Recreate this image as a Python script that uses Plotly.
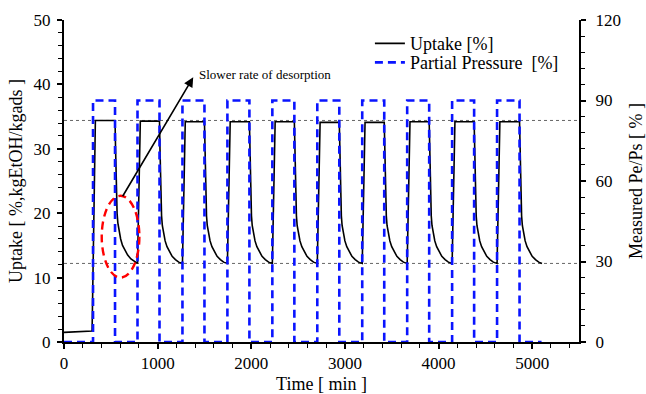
import plotly.graph_objects as go

# ---------------- data ----------------
uptake_time = [
    0, 300, 335,
    545, 550, 555, 560, 567, 575, 590, 605, 625, 650, 680, 715, 750, 785, 815,
    1020, 1025, 1030, 1035, 1042, 1050, 1065, 1080, 1100, 1125, 1155, 1190, 1225, 1265, 1295,
    1500, 1505, 1510, 1515, 1522, 1530, 1545, 1560, 1580, 1605, 1635, 1670, 1705, 1745, 1775,
    1980, 1985, 1990, 1995, 2002, 2010, 2025, 2040, 2060, 2085, 2115, 2150, 2185, 2225, 2255,
    2460, 2465, 2470, 2475, 2482, 2490, 2505, 2520, 2540, 2565, 2595, 2630, 2665, 2705, 2735,
    2940, 2945, 2950, 2955, 2962, 2970, 2985, 3000, 3020, 3045, 3075, 3110, 3145, 3185, 3215,
    3420, 3425, 3430, 3435, 3442, 3450, 3465, 3480, 3500, 3525, 3555, 3590, 3625, 3665, 3695,
    3900, 3905, 3910, 3915, 3922, 3930, 3945, 3960, 3980, 4005, 4035, 4070, 4105, 4145, 4175,
    4380, 4385, 4390, 4395, 4402, 4410, 4425, 4440, 4460, 4485, 4515, 4550, 4585, 4625, 4655,
    4865, 4870, 4875, 4880, 4887, 4895, 4910, 4925, 4945, 4970, 5000, 5035, 5070, 5105,
]
uptake_value = [
    1.5, 1.7, 34.4,
    34.4, 30.5, 26.5, 22.5, 20.0, 18.5, 17.0, 16.0, 15.0, 14.2, 13.5, 12.9, 12.5, 12.2, 34.3,
    34.3, 30.0, 26.0, 22.0, 19.6, 18.1, 16.7, 15.7, 14.8, 14.0, 13.3, 12.8, 12.4, 12.2, 34.2,
    34.2, 30.0, 26.0, 22.0, 19.6, 18.1, 16.7, 15.7, 14.8, 14.0, 13.3, 12.8, 12.4, 12.2, 34.2,
    34.2, 30.0, 26.0, 22.0, 19.6, 18.1, 16.7, 15.7, 14.8, 14.0, 13.3, 12.8, 12.4, 12.2, 34.2,
    34.2, 30.0, 26.0, 22.0, 19.6, 18.1, 16.7, 15.7, 14.8, 14.0, 13.3, 12.8, 12.4, 12.2, 34.1,
    34.1, 30.0, 26.0, 22.0, 19.6, 18.1, 16.7, 15.7, 14.8, 14.0, 13.3, 12.8, 12.4, 12.2, 34.1,
    34.1, 30.0, 26.0, 22.0, 19.6, 18.1, 16.7, 15.7, 14.8, 14.0, 13.3, 12.8, 12.4, 12.2, 34.2,
    34.2, 30.0, 26.0, 22.0, 19.6, 18.1, 16.7, 15.7, 14.8, 14.0, 13.3, 12.8, 12.4, 12.2, 34.2,
    34.2, 30.0, 26.0, 22.0, 19.6, 18.1, 16.7, 15.7, 14.8, 14.0, 13.3, 12.8, 12.4, 12.2, 34.2,
    34.2, 30.0, 26.0, 22.0, 19.6, 18.1, 16.7, 15.7, 14.8, 14.0, 13.3, 12.8, 12.4, 12.2,
]

pressure_time = [
    0, 310, 310, 545, 545, 785, 785, 1020, 1020, 1265, 1265, 1500, 1500,
    1745, 1745, 1980, 1980, 2225, 2225, 2460, 2460, 2705, 2705, 2940, 2940,
    3185, 3185, 3420, 3420, 3665, 3665, 3900, 3900, 4145, 4145, 4380, 4380,
    4625, 4625, 4865, 4865, 5100,
]
pressure_value = [
    0, 0, 90, 90, 0, 0, 90, 90, 0, 0, 90, 90, 0,
    0, 90, 90, 0, 0, 90, 90, 0, 0, 90, 90, 0,
    0, 90, 90, 0, 0, 90, 90, 0, 0, 90, 90, 0,
    0, 90, 90, 0, 0,
]

reference_levels = [34.4, 12.2]          # grey dashed guide lines (left axis)
x_ticks = [0, 1000, 2000, 3000, 4000, 5000]
y_ticks = [0, 10, 20, 30, 40, 50]
y2_ticks = [0, 30, 60, 90, 120]

FONT = "Liberation Serif, Times New Roman, serif"

fig = go.Figure()
fig.add_trace(go.Scatter(
    x=uptake_time, y=uptake_value, mode="lines", name="Uptake [%]",
    line=dict(color="black", width=1.6), cliponaxis=False, legend="legend",
))
fig.add_trace(go.Scatter(
    x=pressure_time, y=pressure_value, mode="lines", name="Partial Pressure  [%]",
    line=dict(color="#0a14ff", width=2.6, dash="8px,5px"), yaxis="y2", cliponaxis=False,
    legend="legend2",
))

for lvl in reference_levels:
    fig.add_shape(type="line", xref="paper", x0=0, x1=1, yref="y", y0=lvl, y1=lvl,
                  line=dict(color="#666666", width=1, dash="3px,3px"), layer="below")

# red dashed ellipse highlighting the first desorption
fig.add_shape(type="circle", xref="x", yref="y", x0=403, x1=805, y0=10.0, y1=22.7,
              line=dict(color="red", width=2.4, dash="8px,5px"))

# arrow and its label
fig.add_annotation(x=1380, y=41.1, ax=617, ay=22.4, xref="x", yref="y", axref="x", ayref="y",
                   text="", showarrow=True, arrowhead=2, arrowsize=1.2, arrowwidth=1.6,
                   arrowcolor="black")
fig.add_annotation(x=1415, y=41.5, xref="x", yref="y", text="Slower rate of desorption",
                   showarrow=False, xanchor="left", yanchor="middle",
                   font=dict(family=FONT, size=13, color="black"))

axis_common = dict(showgrid=False, zeroline=False, showline=True, linecolor="black",
                   linewidth=2, ticks="outside", ticklen=5, tickwidth=1.5, tickcolor="black",
                   automargin=False,
                   tickfont=dict(family=FONT, size=17, color="black"))

legend_common = dict(xanchor="left", yanchor="top", bgcolor="rgba(0,0,0,0)",
                     font=dict(family=FONT, size=18, color="black"))

fig.update_layout(
    width=646, height=394,
    margin=dict(l=64, r=67, t=20, b=52),
    plot_bgcolor="white", paper_bgcolor="white",
    font=dict(family=FONT, size=17, color="black"),
    xaxis=dict(range=[0, 5500], tickvals=x_ticks,
               minor=dict(dtick=200, ticks="outside", ticklen=4, tickcolor="black", tickwidth=1.2),
               title=dict(text="Time [ min ]", font=dict(family=FONT, size=18), standoff=6),
               **axis_common),
    yaxis=dict(range=[0, 50], tickvals=y_ticks, ticklabelstandoff=3,
               minor=dict(dtick=2, ticks="outside", ticklen=4, tickcolor="black", tickwidth=1.2),
               title=dict(text="Uptake [ %,kgEtOH/kgads ]", font=dict(family=FONT, size=18), standoff=6),
               **axis_common),
    yaxis2=dict(range=[0, 120], tickvals=y2_ticks, overlaying="y", side="right",
                ticklabelstandoff=6,
                minor=dict(dtick=6, ticks="outside", ticklen=4, tickcolor="black", tickwidth=1.2),
                title=dict(text="Measured Pe/Ps [ % ]", font=dict(family=FONT, size=18), standoff=12),
                **axis_common),
    legend=dict(x=0.594, y=0.984, **legend_common),
    legend2=dict(x=0.594, y=0.925, **legend_common),
    showlegend=True,
)

fig.write_html("out.html")
